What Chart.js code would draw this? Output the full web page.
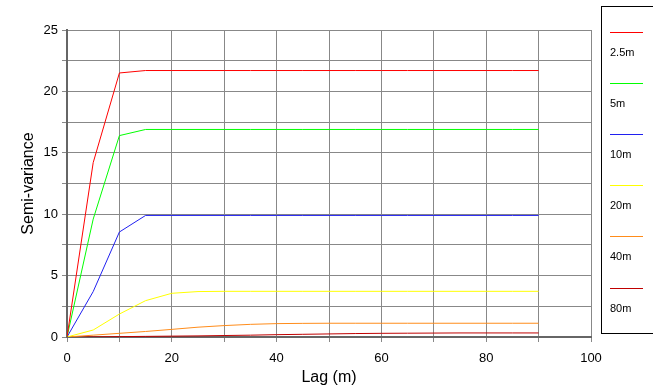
<!DOCTYPE html>
<html>
<head>
<meta charset="utf-8">
<script src="https://cdn.jsdelivr.net/npm/chart.js@4/dist/chart.umd.min.js"></script>
<style>
  html, body { margin: 0; padding: 0; background: #fff; }
</style>
</head>
<body>
<canvas id="canvas" width="653" height="387"></canvas>
<script>
// lag distances (m)
const lags = [0, 5, 10, 15, 20, 25, 30, 35, 40, 45, 50, 55, 60, 65, 70, 75, 80, 85, 90];

// semi-variance per sampling scale
const v2_5 = [0, 14.2, 21.5, 21.7, 21.7, 21.7, 21.7, 21.7, 21.7, 21.7, 21.7, 21.7, 21.7, 21.7, 21.7, 21.7, 21.7, 21.7, 21.7];
const v5   = [0, 9.6, 16.4, 16.9, 16.9, 16.9, 16.9, 16.9, 16.9, 16.9, 16.9, 16.9, 16.9, 16.9, 16.9, 16.9, 16.9, 16.9, 16.9];
const v10  = [0, 3.7, 8.55, 9.9, 9.9, 9.9, 9.9, 9.9, 9.9, 9.9, 9.9, 9.9, 9.9, 9.9, 9.9, 9.9, 9.9, 9.9, 9.9];
const v20  = [0, 0.57, 1.87, 2.96, 3.56, 3.7, 3.72, 3.72, 3.72, 3.72, 3.72, 3.72, 3.72, 3.72, 3.72, 3.72, 3.72, 3.72, 3.72];
const v40  = [0, 0.15, 0.3, 0.45, 0.62, 0.8, 0.93, 1.03, 1.09, 1.11, 1.12, 1.12, 1.12, 1.12, 1.12, 1.12, 1.12, 1.12, 1.12];
const v80  = [0, 0.01, 0.03, 0.05, 0.07, 0.09, 0.12, 0.15, 0.19, 0.22, 0.25, 0.28, 0.3, 0.31, 0.32, 0.33, 0.33, 0.33, 0.33];

const seriesNames = ['2.5m', '5m', '10m', '20m', '40m', '80m'];
const seriesValues = [v2_5, v5, v10, v20, v40, v80];
const seriesColors = ['#ff0000', '#00ff00', '#2020f0', '#ffff00', '#ff8c1a', '#c00000'];

const FONT = 'Liberation Sans, Arial, sans-serif';

// legend on the right: a short line with the name underneath
const sideLegend = {
  id: 'sideLegend',
  afterDraw(chart) {
    const ctx = chart.ctx;
    ctx.save();
    ctx.strokeStyle = '#000';
    ctx.lineWidth = 1;
    ctx.strokeRect(601.5, 6.5, 60, 327);
    chart.data.datasets.forEach((ds, i) => {
      const y = 31.5 + i * 51.2;
      ctx.strokeStyle = ds.borderColor;
      ctx.beginPath();
      ctx.moveTo(610, Math.round(y) + 0.5);
      ctx.lineTo(643, Math.round(y) + 0.5);
      ctx.stroke();
      ctx.fillStyle = '#000';
      ctx.font = '11px ' + FONT;
      ctx.textBaseline = 'middle';
      ctx.fillText(ds.label, 610, y + 21);
    });
    ctx.restore();
  }
};

new Chart(document.getElementById('canvas'), {
  type: 'line',
  data: {
    datasets: seriesNames.map((name, i) => ({
      label: name,
      data: lags.map((x, j) => ({ x: x, y: seriesValues[i][j] })),
      borderColor: seriesColors[i],
      borderWidth: 1,
      pointRadius: 0,
      tension: 0,
      fill: false
    }))
  },
  options: {
    responsive: false,
    animation: false,
    devicePixelRatio: 1,
    layout: { padding: { top: 30, right: 62, left: 19, bottom: 0 } },
    plugins: { legend: { display: false }, tooltip: { enabled: false } },
    scales: {
      x: {
        type: 'linear',
        min: 0, max: 100,
        afterFit(s) { s.height = 50; },
        ticks: {
          stepSize: 10,
          autoSkip: false,
          maxRotation: 0,
          color: '#000',
          font: { family: FONT, size: 13 },
          padding: 9,
          callback: v => (v % 20 === 0 ? v : '')
        },
        grid: { color: '#888', lineWidth: 1, tickLength: 5, drawTicks: true },
        border: { color: '#666', width: 2 },
        title: {
          display: true, text: 'Lag (m)', color: '#000',
          font: { family: FONT, size: 16 }, padding: { top: 0, bottom: 0 }
        }
      },
      y: {
        min: 0, max: 25,
        afterFit(s) { s.width = 48; },
        ticks: {
          stepSize: 2.5,
          autoSkip: false,
          color: '#000',
          font: { family: FONT, size: 13 },
          padding: 4,
          callback: v => (v % 5 === 0 ? v : '')
        },
        grid: { color: '#888', lineWidth: 1, tickLength: 5, drawTicks: true },
        border: { color: '#666', width: 2 },
        title: {
          display: true, text: 'Semi-variance', color: '#000',
          font: { family: FONT, size: 16 }, padding: { top: 0, bottom: 0 }
        }
      }
    }
  },
  plugins: [sideLegend]
});
</script>
</body>
</html>
